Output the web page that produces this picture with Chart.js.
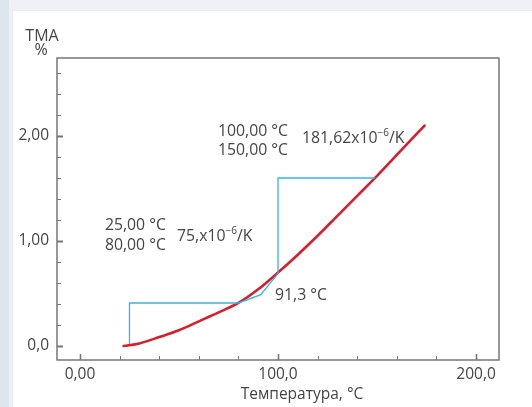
<!DOCTYPE html>
<html>
<head>
<meta charset="utf-8">
<script src="https://cdn.jsdelivr.net/npm/chart.js@4.4.0/dist/chart.umd.min.js"></script>
<style>
    html, body { margin: 0; padding: 0; }
    body { width: 532px; height: 407px; overflow: hidden; background: #eef2f6; position: relative; }
    #strip { position: absolute; left: 0; top: 0; width: 9px; height: 407px; background: #dde5ed; }
    #card { position: absolute; left: 12px; top: 10px; right: 0; bottom: 0; background: #fff; border-left: 1px solid #e8ecef; border-top: 1px solid #e8ecef; }
    #chart { position: absolute; left: 0; top: 0; }
</style>
</head>
<body>
<div id="strip"></div>
<div id="card"></div>
<canvas id="chart" width="532" height="407"></canvas>
<script>
// measured curve (red)
var tmaTemp = [22, 30, 40, 50, 60, 70, 80, 90, 100, 110, 120, 130, 140, 150, 160, 170, 174];
var tmaValue = [0.0, 0.025, 0.085, 0.15, 0.235, 0.32, 0.41, 0.54, 0.70, 0.87, 1.05, 1.24, 1.43, 1.62, 1.82, 2.02, 2.10];

// evaluation construction (blue)
var evalTemp = [25, 25, 80, 91.3, 100, 100, 149];
var evalValue = [0.02, 0.41, 0.41, 0.49, 0.69, 1.60, 1.60];

// ticks
var xTickValues = [0, 20, 40, 60, 80, 100, 120, 140, 160, 180, 200];
var xTickLabels = { 0: '0,00', 100: '100,0', 200: '200,0' };
var yTickValues = [0, 0.2, 0.4, 0.6, 0.8, 1.0, 1.2, 1.4, 1.6, 1.8, 2.0, 2.2, 2.4, 2.6];
var yTickLabels = { 0: '0,0', 1: '1,00', 2: '2,00' };

var FONT = '"Open Sans", "Noto Sans", sans-serif';
var TEXT = '#454545';

function toPoints(xs, ys) {
    return xs.map(function (x, i) { return { x: x, y: ys[i] }; });
}

// text with optional superscript part: [['181,62x10'], ['-6', true], ['/K']]
function drawParts(ctx, parts, x, y) {
    parts.forEach(function (p) {
        if (p[1]) {
            ctx.font = '10px ' + FONT;
            ctx.fillText(p[0], x, y - 7);
        } else {
            ctx.font = '15.8px ' + FONT;
            ctx.fillText(p[0], x, y);
        }
        x += ctx.measureText(p[0]).width;
    });
}

var framePlugin = {
    id: 'frame',
    afterDraw: function (chart) {
        var ctx = chart.ctx;
        var a = chart.chartArea;
        var xs = chart.scales.x, ys = chart.scales.y;
        ctx.save();
        // box
        ctx.strokeStyle = '#777';
        ctx.lineWidth = 1.5;
        ctx.strokeRect(a.left, a.top, a.right - a.left, a.bottom - a.top);
        // inward ticks
        xTickValues.forEach(function (v) {
            var px = Math.round(xs.getPixelForValue(v)) + 0.5;
            var major = xTickLabels[v] !== undefined;
            ctx.lineWidth = major ? 1.6 : 1;
            ctx.beginPath();
            ctx.moveTo(px, a.bottom);
            ctx.lineTo(px, a.bottom - (major ? 6 : 4));
            ctx.stroke();
        });
        yTickValues.forEach(function (v) {
            var py = Math.round(ys.getPixelForValue(v)) + 0.5;
            var major = yTickLabels[Math.round(v * 10) / 10] !== undefined;
            ctx.lineWidth = major ? 2 : 1;
            ctx.beginPath();
            ctx.moveTo(a.left, py);
            ctx.lineTo(a.left + (major ? 6 : 4), py);
            ctx.stroke();
        });

        // annotations in data coordinates
        ctx.fillStyle = TEXT;
        ctx.textAlign = 'left';
        ctx.textBaseline = 'alphabetic';
        var notes = [
            { x: 12.6, y: 1.105, parts: [['25,00 °C']] },
            { x: 12.6, y: 0.914, parts: [['80,00 °C']] },
            { x: 49.0, y: 1.0, parts: [['75,x10'], ['\u22126', true], ['/K']] },
            { x: 69.7, y: 2.0, parts: [['100,00 °C']] },
            { x: 69.7, y: 1.819, parts: [['150,00 °C']] },
            { x: 112.1, y: 1.933, parts: [['181,62x10'], ['\u22126', true], ['/K']] },
            { x: 98.5, y: 0.438, parts: [['91,3 °C']] }
        ];
        notes.forEach(function (n) {
            drawParts(ctx, n.parts, xs.getPixelForValue(n.x), ys.getPixelForValue(n.y));
        });

        // axis titles
        ctx.font = '16px ' + FONT;
        ctx.textAlign = 'center';
        ctx.fillText('TMA', 42, 41);
        ctx.fillText('%', 41, 55);
        ctx.font = '15.5px ' + FONT;
        ctx.fillText('Температура, °C', 302, 399);
        ctx.restore();
    }
};

new Chart(document.getElementById('chart'), {
    type: 'scatter',
    data: {
        datasets: [{
            data: toPoints(evalTemp, evalValue),
            showLine: true,
            borderColor: '#35b4e6',
            borderWidth: 1.3,
            pointRadius: 0,
            tension: 0,
            fill: false
        }, {
            data: toPoints(tmaTemp, tmaValue),
            showLine: true,
            borderColor: '#d81e2a',
            borderWidth: 2.6,
            pointRadius: 0,
            cubicInterpolationMode: 'monotone',
            borderCapStyle: 'round',
            fill: false
        }]
    },
    options: {
        responsive: false,
        animation: false,
        layout: { padding: { left: 0, top: 58, right: 33, bottom: 0 } },
        plugins: { legend: { display: false }, tooltip: { enabled: false } },
        scales: {
            x: {
                type: 'linear',
                min: -11.6,
                max: 211.6,
                afterBuildTicks: function (s) { s.ticks = xTickValues.map(function (v) { return { value: v }; }); },
                afterFit: function (s) { s.height = 47; },
                grid: { display: false, drawTicks: false },
                border: { display: false },
                ticks: {
                    autoSkip: false,
                    maxRotation: 0,
                    padding: 5,
                    color: TEXT,
                    font: { family: FONT, size: 15.5 },
                    callback: function (v) { return xTickLabels[v] !== undefined ? xTickLabels[v] : ''; }
                }
            },
            y: {
                type: 'linear',
                min: -0.133,
                max: 2.743,
                afterBuildTicks: function (s) { s.ticks = yTickValues.map(function (v) { return { value: v }; }); },
                afterFit: function (s) { s.width = 57; },
                grid: { display: false, drawTicks: false },
                border: { display: false },
                ticks: {
                    autoSkip: false,
                    padding: 8,
                    color: TEXT,
                    font: { family: FONT, size: 15.5 },
                    callback: function (v) {
                        var k = Math.round(v * 10) / 10;
                        return yTickLabels[k] !== undefined ? yTickLabels[k] : '';
                    }
                }
            }
        }
    },
    plugins: [framePlugin]
});
</script>
</body>
</html>
